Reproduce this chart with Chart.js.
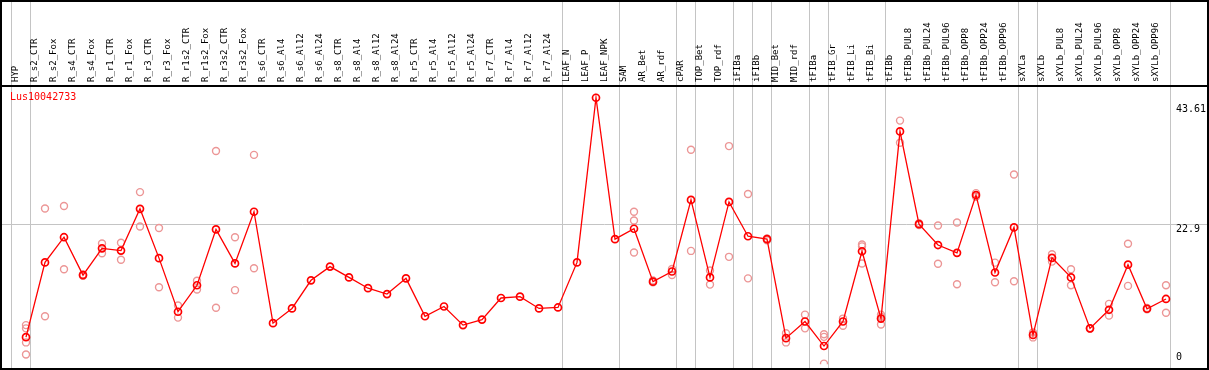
<!DOCTYPE html>
<html>
<head>
<meta charset="utf-8">
<script src="https://cdn.jsdelivr.net/npm/chart.js@4"></script>
<style>
  body { margin: 0; background: #fff; }
</style>
</head>
<body>
<canvas id="canvas" width="1209" height="370"></canvas>
<script>
const geneName = "Lus10042733";

const samples = ["HYP", "R_s2_CTR", "R_s2_Fox", "R_s4_CTR", "R_s4_Fox", "R_r1_CTR", "R_r1_Fox",
  "R_r3_CTR", "R_r3_Fox", "R_r1s2_CTR", "R_r1s2_Fox", "R_r3s2_CTR", "R_r3s2_Fox",
  "R_s6_CTR", "R_s6_Al4", "R_s6_Al12", "R_s6_Al24", "R_s8_CTR", "R_s8_Al4", "R_s8_Al12", "R_s8_Al24",
  "R_r5_CTR", "R_r5_Al4", "R_r5_Al12", "R_r5_Al24", "R_r7_CTR", "R_r7_Al4", "R_r7_Al12", "R_r7_Al24",
  "LEAF_N", "LEAF_P", "LEAF_NPK", "SAM", "AR_Bet", "AR_rdf", "cPAR", "TOP_Bet", "TOP_rdf",
  "iFIBa", "iFIBb", "MID_Bet", "MID_rdf", "tFIBa", "tFIB_Gr", "tFIB_Li", "tFIB_Bi",
  "tFIBb", "tFIBb_PUL8", "tFIBb_PUL24", "tFIBb_PUL96", "tFIBb_OPP8", "tFIBb_OPP24", "tFIBb_OPP96",
  "sXYLa", "sXYLb", "sXYLb_PUL8", "sXYLb_PUL24", "sXYLb_PUL96", "sXYLb_OPP8", "sXYLb_OPP24", "sXYLb_OPP96"];

// mean expression per sample
const means = [4.44, 16.67, 20.79, 14.59, 18.97, 18.6, 25.44, 17.37, 8.6, 12.93, 22.07, 16.51, 24.96,
  6.73, 9.14, 13.74, 15.98, 14.22, 12.45, 11.49, 14.06, 7.86, 9.46, 6.41, 7.32, 10.85, 11.06, 9.14, 9.3,
  16.67, 43.61, 20.47, 22.18, 13.52, 15.18, 26.89, 14.22, 26.57, 20.95, 20.47, 4.28, 7.0, 2.99, 7.0, 18.49, 7.48,
  38.1, 22.93, 19.51, 18.23, 27.69, 15.02, 22.4, 4.81, 17.42, 14.22, 5.88, 8.92, 16.3, 9.09, 10.69];

// individual replicates per sample (faint circles)
const replicates = [
  [6.41, 5.88, 3.58, 1.6], [25.5, 7.86], [25.9, 15.55], [14.7, 14.5], [19.77, 18.17], [19.88, 17.1],
  [28.17, 22.55], [22.29, 12.61], [9.62, 7.64], [13.68, 12.24], [34.9, 9.25], [20.79, 12.13], [34.26, 15.71],
  [], [], [], [], [], [], [], [], [], [], [], [], [], [], [], [],
  [], [], [],
  [24.96, 23.52, 18.28], [13.4, 13.7], [15.6, 14.6], [35.1, 18.55], [15.34, 13.04], [35.7, 17.58],
  [27.85, 14.06], [20.6, 20.3], [5.08, 3.58], [8.12, 5.88], [4.92, 4.49, 0.11], [7.48, 6.3],
  [19.6, 19.3, 16.5], [8.12, 6.52, 7.8],
  [39.87, 36.24], [23.1, 22.8], [22.72, 16.46], [23.2, 13.1], [28.0, 27.4], [16.63, 13.42], [31.06, 13.58],
  [5.2, 4.4], [18.01, 16.8], [15.55, 12.93], [5.9, 5.8], [9.89, 7.96], [19.72, 12.83], [9.2, 9.0], [12.93, 8.44]
];

// index of the last sample in each group (separators)
const groupEnds = [-1, 0, 28, 31, 34, 35, 37, 38, 39, 41, 42, 45, 52, 53, 60];
const yTicks = [0, 22.9, 43.61];
const yGrid = [22.9];

const repPoints = [];
replicates.forEach((vals, i) => vals.forEach(v => repPoints.push({ x: samples[i], y: v })));

const W = 1209, H = 370;
const mono = "'DejaVu Sans Mono', 'Liberation Mono', monospace";

const framePlugin = {
  id: 'frame',
  beforeDraw(chart) {
    const { ctx, scales: { x, y } } = chart;
    ctx.save();
    ctx.strokeStyle = '#c4c4c4';
    ctx.lineWidth = 1;
    ctx.beginPath();
    yGrid.forEach(v => {
      const py = Math.round(y.getPixelForValue(v)) + 0.5;
      ctx.moveTo(0, py); ctx.lineTo(W, py);
    });
    groupEnds.forEach(i => {
      const px = Math.round(x.getPixelForValue(i + 0.21)) + 0.5;
      ctx.moveTo(px, 0); ctx.lineTo(px, H);
    });
    ctx.stroke();
    ctx.restore();
  },
  afterDraw(chart) {
    const { ctx, chartArea: a, scales: { y } } = chart;
    ctx.save();
    ctx.strokeStyle = '#000';
    ctx.lineWidth = 2;
    ctx.strokeRect(1, 1, W - 2, H - 2);
    ctx.beginPath();
    ctx.moveTo(0, a.top); ctx.lineTo(W, a.top);
    ctx.stroke();

    ctx.font = '10px ' + mono;
    ctx.fillStyle = '#000';
    ctx.textAlign = 'left';
    ctx.textBaseline = 'middle';
    yTicks.forEach(v => {
      let py = y.getPixelForValue(v) + 5;
      py = Math.max(a.top + 23, Math.min(a.bottom - 7, py));
      ctx.fillText(String(v), 1176, py);
    });

    ctx.fillStyle = '#ff0000';
    ctx.fillText(geneName, 10, a.top + 11);
    ctx.restore();
  }
};

const ctx = document.getElementById('canvas');
const myChart = new Chart(ctx, {
  type: 'line',
  data: {
    labels: samples,
    datasets: [{
      label: geneName,
      data: means,
      borderColor: '#ff0000',
      borderWidth: 1.3,
      pointRadius: 3.5,
      pointBorderWidth: 1.7,
      pointBorderColor: '#ff0000',
      pointBackgroundColor: 'rgba(255,255,255,0)',
      tension: 0
    }, {
      label: 'replicates',
      data: repPoints,
      showLine: false,
      pointRadius: 3.5,
      pointBorderWidth: 1.4,
      pointBorderColor: 'rgb(236,150,150)',
      pointBackgroundColor: 'rgba(255,255,255,0)'
    }]
  },
  options: {
    responsive: false,
    animation: false,
    layout: { padding: { left: 26, right: 43, top: 0, bottom: 0 } },
    plugins: { legend: { display: false }, tooltip: { enabled: false } },
    scales: {
      x: {
        type: 'category',
        position: 'top',
        offset: false,
        grid: { display: false, drawTicks: false },
        border: { display: false },
        ticks: {
          autoSkip: false,
          minRotation: 90,
          maxRotation: 90,
          padding: 4,
          color: '#000',
          font: { family: mono, size: 9 }
        },
        afterFit(s) { s.height = 86; }
      },
      y: {
        display: false,
        min: 0,
        max: 45.53
      }
    }
  },
  plugins: [framePlugin]
});
</script>
</body>
</html>
